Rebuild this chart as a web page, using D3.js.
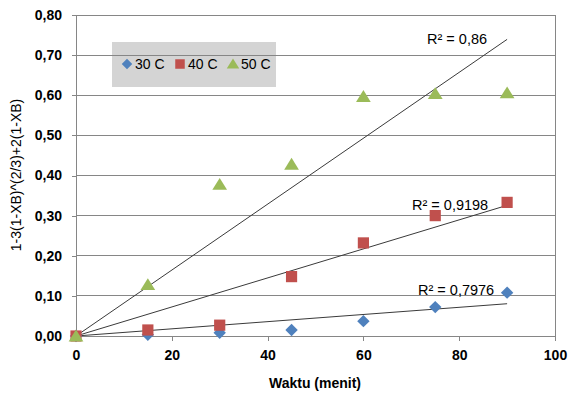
<!DOCTYPE html>
<html>
<head>
<meta charset="utf-8">
<script src="https://cdn.jsdelivr.net/npm/d3@7"></script>
<style>
  body { margin: 0; background: #fff; }
  svg { font-family: "Liberation Sans", Arial, sans-serif; }
</style>
</head>
<body>
<svg id="chart" width="568" height="394"></svg>
<script>
// time in minutes
const waktu = [0, 15, 30, 45, 60, 75, 90];
const series30 = [0, 0.003, 0.008, 0.015, 0.037, 0.072, 0.108];
const series40 = [0, 0.015, 0.027, 0.148, 0.232, 0.300, 0.333];
const series50 = [0, 0.128, 0.378, 0.428, 0.597, 0.604, 0.606];
const seriesNames = ['30 C', '40 C', '50 C'];
const r2Labels = ['R² = 0,7976', 'R² = 0,9198', 'R² = 0,86'];
const xTicks = [0, 20, 40, 60, 80, 100];
const yTicks = [0, 0.1, 0.2, 0.3, 0.4, 0.5, 0.6, 0.7, 0.8];

const colors = ['#4f81bd', '#c0504d', '#9bbb59'];

// marker shapes, excel style: diamond = square turned 45deg
const diamond = s => `M0,${-s}L${s},0L0,${s}L${-s},0Z`;
const square = s => `M${-s},${-s}H${s}V${s}H${-s}Z`;
const triangle = s => `M0,${-s}L${s * 1.15},${s * 0.85}H${-s * 1.15}Z`;
const shapes = [diamond, square, triangle];
const shapeSize = [6.2, 5.6, 6.4];

const svg = d3.select('#chart');
const margin = { left: 76, right: 13, top: 15, bottom: 58 };
const W = 568, H = 394;

const x = d3.scaleLinear().domain([0, 100]).range([margin.left, W - margin.right]);
const y = d3.scaleLinear().domain([0, 0.8]).range([H - margin.bottom, margin.top]);

const allSeries = [series30, series40, series50].map((vals, i) => ({
  name: seriesNames[i],
  color: colors[i],
  shape: shapes[i],
  size: shapeSize[i],
  r2: r2Labels[i],
  points: vals.map((v, j) => ({ x: waktu[j], y: v }))
}));

// legend box (sits under the gridlines, as in the original)
const legend = svg.append('g');
legend.append('rect')
  .attr('x', 112).attr('y', 42).attr('width', 164).attr('height', 45)
  .attr('fill', '#d4d4d4');

// gridlines
svg.append('g')
  .selectAll('line')
  .data(yTicks.slice(1))
  .join('line')
  .attr('x1', x(0)).attr('x2', x(100))
  .attr('y1', d => y(d)).attr('y2', d => y(d))
  .attr('stroke', '#868686').attr('stroke-width', 1)
  .attr('shape-rendering', 'crispEdges');

// right border
svg.append('line')
  .attr('x1', x(100)).attr('x2', x(100))
  .attr('y1', y(0.8)).attr('y2', y(0))
  .attr('stroke', '#868686').attr('shape-rendering', 'crispEdges');

// axes
const fmt = d3.format('.2f');
const yAxis = d3.axisLeft(y).tickValues(yTicks)
  .tickFormat(d => fmt(d).replace('.', ','))
  .tickSize(4).tickPadding(10);
const xAxis = d3.axisBottom(x).tickValues(xTicks).tickSize(5).tickPadding(9);

const gy = svg.append('g').attr('transform', `translate(${margin.left},0)`).call(yAxis);
const gx = svg.append('g').attr('transform', `translate(0,${H - margin.bottom})`).call(xAxis);
[gx, gy].forEach(g => {
  g.selectAll('path, line').attr('stroke', '#868686').attr('shape-rendering', 'crispEdges');
  g.selectAll('text').attr('fill', '#000').style('font-size', '14px').style('font-weight', 'bold');
});

// legend items
const legItems = legend.selectAll('g.item')
  .data(allSeries)
  .join('g')
  .attr('transform', (d, i) => `translate(${127 + i * 53},64)`);
legItems.append('path')
  .attr('d', d => d.shape(d.size * 0.85))
  .attr('fill', d => d.color);
legItems.append('text')
  .attr('x', 8).attr('y', 5)
  .style('font-size', '14px')
  .text(d => d.name);

// trendlines through the origin (least squares, zero intercept)
allSeries.forEach(s => {
  const sxy = d3.sum(s.points, p => p.x * p.y);
  const sxx = d3.sum(s.points, p => p.x * p.x);
  s.slope = sxy / sxx;
});

svg.append('g')
  .selectAll('line')
  .data(allSeries)
  .join('line')
  .attr('x1', x(0)).attr('y1', y(0))
  .attr('x2', x(90)).attr('y2', d => y(d.slope * 90))
  .attr('stroke', '#3a3a3a').attr('stroke-width', 1);

// markers
allSeries.forEach(s => {
  svg.append('g')
    .selectAll('path')
    .data(s.points)
    .join('path')
    .attr('transform', p => `translate(${x(p.x)},${y(p.y)})`)
    .attr('d', s.shape(s.size))
    .attr('fill', s.color);
});

// R² labels
const r2Pos = [[418, 295], [412, 210], [427, 44]];
svg.append('g')
  .selectAll('text')
  .data(allSeries)
  .join('text')
  .attr('x', (d, i) => r2Pos[i][0])
  .attr('y', (d, i) => r2Pos[i][1])
  .style('font-size', '14.5px')
  .text(d => d.r2);

// axis titles
svg.append('text')
  .attr('x', 315).attr('y', 388)
  .attr('text-anchor', 'middle')
  .style('font-size', '14px').style('font-weight', 'bold')
  .text('Waktu (menit)');

svg.append('text')
  .attr('transform', 'translate(21,175) rotate(-90)')
  .attr('text-anchor', 'middle')
  .style('font-size', '14px')
  .text('1-3(1-XB)^(2/3)+2(1-XB)');
</script>
</body>
</html>
